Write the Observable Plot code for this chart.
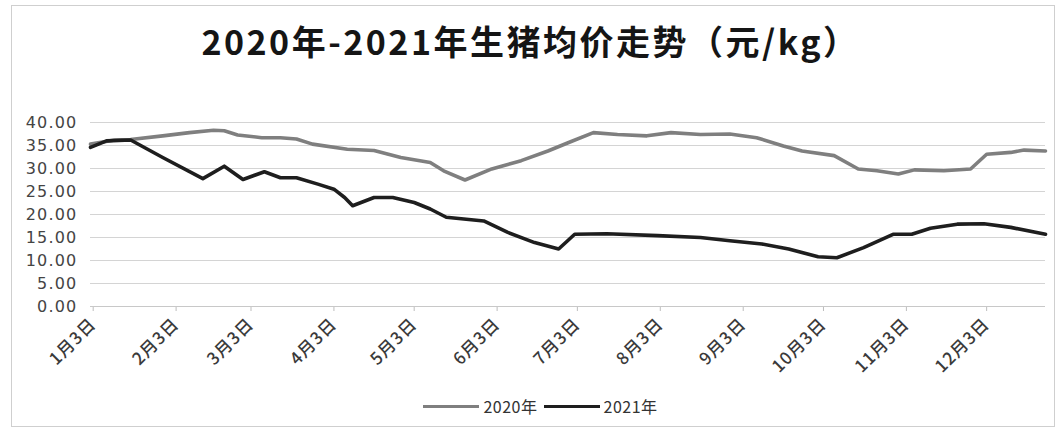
<!DOCTYPE html>
<html><head><meta charset="utf-8">
<script src="https://cdn.jsdelivr.net/npm/d3@7"></script>
<script src="https://cdn.jsdelivr.net/npm/@observablehq/plot@0.6"></script>
<style>
body{margin:0;background:#fff;width:1061px;height:430px;overflow:hidden;position:relative;font-family:"DejaVu Sans","Noto Sans CJK SC",sans-serif}
#frame{position:absolute;left:11px;top:5px;width:1044px;height:422px;border:1px solid #cfcfcf;box-sizing:border-box}
#title{position:absolute;left:0;top:20px;width:1061px;text-align:center;font-weight:bold;font-size:34px;font-family:"Noto Sans CJK SC",sans-serif;letter-spacing:2.5px;color:#151515;line-height:42px}
#chart{position:absolute;left:0;top:95px}
#legend{position:absolute;top:394px;left:0;width:1081px;display:flex;justify-content:center;align-items:center;font-size:16px;font-family:"Noto Sans CJK SC",sans-serif;color:#333;letter-spacing:0.5px}
#legend .sw{display:inline-block;width:56px;height:3px;margin-right:4px}
#legend .it{display:flex;align-items:center;margin:0 3px}
#chart svg g[aria-label="y-axis tick label"] text{letter-spacing:1.2px}
#chart svg g[aria-label="x-axis tick label"] text{letter-spacing:1px;font-weight:500}
</style></head>
<body>
<div id="frame"></div>
<div id="title">2020年-2021年生猪均价走势（元/kg）</div>
<div id="chart"></div>
<div id="legend"></div>
<script>
// 2020 series (month-day, price 元/kg)
const dates2020 = ["01-02","01-11","01-17","01-29","02-08","02-17","02-21","02-26","03-07","03-14","03-20","03-26","04-08","04-18","04-28","05-09","05-14","05-22","06-01","06-12","06-22","06-30","07-09","07-18","07-29","08-07","08-18","08-29","09-08","09-18","09-25","10-07","10-16","10-23","10-31","11-06","11-17","11-27","12-03","12-12","12-17","12-25"];
const price2020 = [35.3,36.2,36.3,37.1,37.8,38.3,38.2,37.3,36.7,36.7,36.4,35.3,34.2,33.9,32.4,31.3,29.5,27.5,29.9,31.7,33.8,35.7,37.8,37.4,37.1,37.8,37.4,37.5,36.7,34.9,33.8,32.8,29.9,29.5,28.8,29.7,29.5,29.9,33.1,33.5,34.0,33.8];
// 2021 series
const dates2021 = ["01-02","01-08","01-17","01-29","02-13","02-21","02-28","03-08","03-14","03-20","03-28","04-03","04-07","04-10","04-18","04-25","05-03","05-09","05-15","05-29","06-07","06-17","06-26","07-02","07-14","08-02","08-18","08-29","09-10","09-20","10-01","10-08","10-18","10-29","11-05","11-12","11-22","12-02","12-12","12-25"];
const price2021 = [34.6,36.0,36.2,32.4,27.8,30.5,27.6,29.3,28.0,28.0,26.6,25.5,23.7,21.9,23.7,23.7,22.6,21.2,19.4,18.6,16.1,13.9,12.5,15.7,15.8,15.4,15.0,14.3,13.6,12.5,10.8,10.6,12.8,15.7,15.7,17.0,17.9,18.0,17.2,15.7];
// axis ticks
const xTickLabels = ["1月3日","2月3日","3月3日","4月3日","5月3日","6月3日","7月3日","8月3日","9月3日","10月3日","11月3日","12月3日"];
const yTicks = [0,5,10,15,20,25,30,35,40];
const seriesNames = ["2020年","2021年"];
const seriesColors = ["#7f7f7f","#1e1e1e"];

const toDate = s => { const [m,d] = s.split("-").map(Number); return new Date(Date.UTC(2021, m-1, d)); };
const rows2020 = dates2020.map((s,i) => ({date: toDate(s), price: price2020[i]}));
const rows2021 = dates2021.map((s,i) => ({date: toDate(s), price: price2021[i]}));
const tickDates = xTickLabels.map(l => { const m = +l.split("月")[0]; return new Date(Date.UTC(2021, m-1, 3)); });
const labelOf = new Map(tickDates.map((d,i) => [+d, xTickLabels[i]]));

const chart = Plot.plot({
  width: 1061, height: 290,
  marginLeft: 90, marginRight: 16, marginTop: 27, marginBottom: 79,
  style: {background: "transparent", fontFamily: "DejaVu Sans, Noto Sans CJK SC, sans-serif", color: "#444"},
  x: {type: "utc", domain: [toDate("01-02"), toDate("12-25")], label: null},
  y: {domain: [0, 40], label: null},
  marks: [
    Plot.gridY(yTicks, {stroke: "#d4d4d4", strokeOpacity: 1}),
    Plot.axisY({ticks: yTicks, tickFormat: d => d.toFixed(2), tickSize: 0, tickPadding: 13, fontSize: 16, fill: "#444", label: null}),
    Plot.axisX({ticks: tickDates, tickFormat: d => labelOf.get(+d), tickRotate: -45, tickSize: 5, tickPadding: 10, fontSize: 17, stroke: "#bdbdbd", fill: "#3a3a3a", fontFamily: "Noto Sans CJK SC, sans-serif", label: null}),
    Plot.ruleY([0], {stroke: "#c8c8c8"}),
    Plot.lineY(rows2020, {x: "date", y: "price", stroke: seriesColors[0], strokeWidth: 3.6, strokeLinejoin: "round"}),
    Plot.lineY(rows2021, {x: "date", y: "price", stroke: seriesColors[1], strokeWidth: 3.6, strokeLinejoin: "round"})
  ]
});
document.getElementById("chart").appendChild(chart);

const legend = document.getElementById("legend");
seriesNames.forEach((n,i) => {
  const it = document.createElement("span"); it.className = "it";
  const sw = document.createElement("span"); sw.className = "sw"; sw.style.background = seriesColors[i];
  it.appendChild(sw); it.appendChild(document.createTextNode(n));
  legend.appendChild(it);
});
</script>
</body></html>
